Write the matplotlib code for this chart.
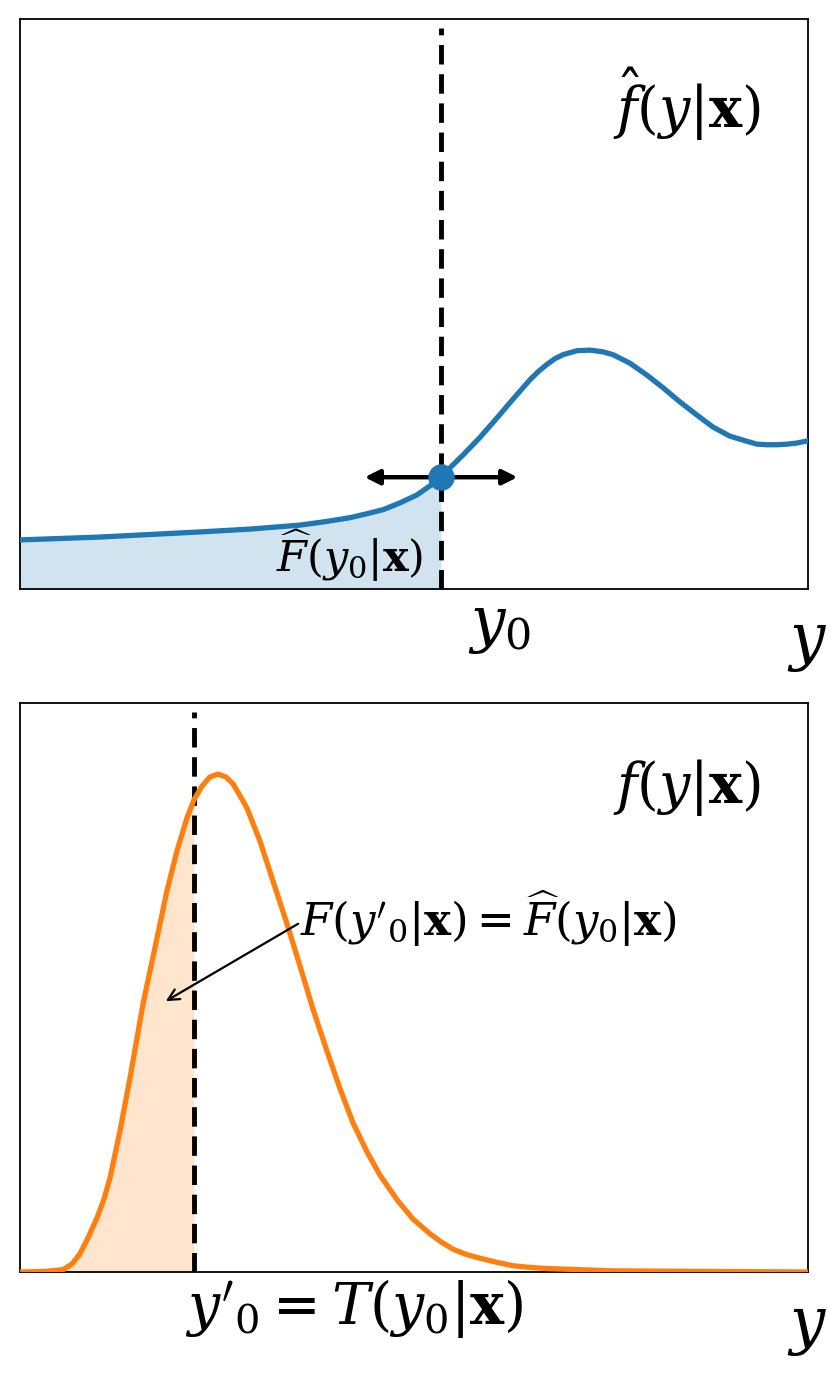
"""Two-panel sketch: estimated density (top) and true density (bottom)
with the quantile y0 mapped to y'0 through the CDF."""

import matplotlib

matplotlib.use("Agg")
import matplotlib.pyplot as plt
import numpy as np

plt.rcParams["mathtext.fontset"] = "dejavuserif"

# values (x in 0..10, y as fraction of axes height)
est_x = [0.000, 1.015, 2.284, 2.919, 3.553, 3.871, 4.188, 4.404, 4.607, 4.822,
         5.038, 5.203, 5.343, 5.482, 5.622, 5.838, 6.053, 6.256, 6.472, 6.574,
         6.688, 6.789, 6.891, 7.069, 7.234, 7.398, 7.525, 7.741, 7.957, 8.160,
         8.376, 8.591, 8.794, 9.010, 9.226, 9.353, 9.480, 9.607, 9.734, 9.860,
         10.000]
est_y = [0.086, 0.091, 0.100, 0.105, 0.112, 0.118, 0.125, 0.132, 0.139, 0.151,
         0.165, 0.181, 0.196, 0.216, 0.235, 0.266, 0.300, 0.333, 0.367, 0.381,
         0.394, 0.404, 0.411, 0.418, 0.419, 0.416, 0.411, 0.396, 0.375, 0.353,
         0.328, 0.305, 0.284, 0.268, 0.259, 0.254, 0.253, 0.253, 0.254, 0.256,
         0.260]

true_x = [0.000, 0.317, 0.546, 0.660, 0.761, 0.863, 0.977, 1.066, 1.142, 1.269,
          1.396, 1.561, 1.739, 1.865, 1.992, 2.119, 2.208, 2.310, 2.411, 2.513,
          2.614, 2.703, 2.792, 2.881, 3.046, 3.211, 3.388, 3.553, 3.718, 3.896,
          4.061, 4.226, 4.404, 4.569, 4.784, 4.987, 5.203, 5.343, 5.495, 5.660,
          5.838, 6.053, 6.256, 6.472, 6.688, 7.107, 7.525, 8.629, 10.000]
true_y = [0.000, 0.001, 0.004, 0.014, 0.032, 0.060, 0.095, 0.128, 0.165, 0.248,
          0.341, 0.471, 0.587, 0.670, 0.740, 0.798, 0.830, 0.854, 0.870, 0.875,
          0.870, 0.858, 0.837, 0.815, 0.757, 0.687, 0.612, 0.538, 0.462, 0.388,
          0.322, 0.262, 0.211, 0.170, 0.127, 0.093, 0.067, 0.053, 0.040, 0.031,
          0.024, 0.017, 0.011, 0.008, 0.006, 0.004, 0.002, 0.001, 0.000]

y0 = 5.343
y0_prime = 2.208
arrow_half = 0.97

est_x = np.array(est_x)
est_y = np.array(est_y)
true_x = np.array(true_x)
true_y = np.array(true_y)

fig = plt.figure(figsize=(8.3, 13.76), dpi=100)
ax_top = fig.add_axes([0.0241, 0.5720, 0.9494, 0.4142])
ax_bot = fig.add_axes([0.0241, 0.0756, 0.9494, 0.4135])

for ax in (ax_top, ax_bot):
    ax.set_xlim(0, 10)
    ax.set_ylim(0, 1)
    ax.set_xticks([])
    ax.set_yticks([])
    for spine in ax.spines.values():
        spine.set_linewidth(1.3)

# top panel: estimated density
ax_top.plot(est_x, est_y, color="C0", lw=3.8, zorder=3, solid_joinstyle="round")
ax_top.fill_between(est_x, est_y, where=est_x <= y0, color="C0", alpha=0.2, lw=0)
ax_top.axvline(y0, ymax=0.984, color="k", lw=3.5, ls=(0, (4, 2)), zorder=2)
y_at = est_y[est_x == y0][0]
ax_top.annotate("", xy=(y0 - arrow_half, y_at), xytext=(y0 + arrow_half, y_at),
                arrowprops=dict(arrowstyle="<|-|>", color="k", lw=3.2,
                                mutation_scale=22, shrinkA=0, shrinkB=0), zorder=4)
ax_top.plot([y0], [y_at], "o", color="C0", ms=18, zorder=5)

ax_top.text(8.46, 0.851, r"$\hat{f}(y|\mathbf{x})$", fontsize=40,
            ha="center", va="center")
ax_top.text(4.18, 0.030, r"$\widehat{F}(y_0|\mathbf{x})$", fontsize=31,
            ha="center", va="baseline")
ax_top.text(6.08, -0.090, r"$y_0$", fontsize=44, ha="center", va="baseline",
            clip_on=False)
ax_top.text(9.99, -0.121, r"$y$", fontsize=45, ha="center", va="baseline",
            clip_on=False)

# bottom panel: true density
ax_bot.plot(true_x, true_y, color="C1", lw=3.8, zorder=3, solid_joinstyle="round")
ax_bot.fill_between(true_x, true_y, where=true_x <= y0_prime, color="C1",
                    alpha=0.2, lw=0)
ax_bot.axvline(y0_prime, ymax=0.984, color="k", lw=3.5, ls=(0, (4, 2)), zorder=2)

ax_bot.text(8.46, 0.852, r"$f(y|\mathbf{x})$", fontsize=40,
            ha="center", va="center")
ax_bot.text(3.55, 0.590,
            r"$F(y'_0|\mathbf{x}) = \widehat{F}(y_0|\mathbf{x})$",
            fontsize=32.5, ha="left", va="baseline")
ax_bot.annotate("", xy=(1.85, 0.476), xytext=(3.53, 0.612),
                arrowprops=dict(arrowstyle="->", color="k", lw=1.6,
                                mutation_scale=20, shrinkA=0, shrinkB=0))
ax_bot.text(4.24, -0.091, r"$y'_0 = T(y_0|\mathbf{x})$", fontsize=41,
            ha="center", va="baseline", clip_on=False)
ax_bot.text(9.99, -0.123, r"$y$", fontsize=45, ha="center", va="baseline",
            clip_on=False)

fig.savefig("out.png", dpi=100)
